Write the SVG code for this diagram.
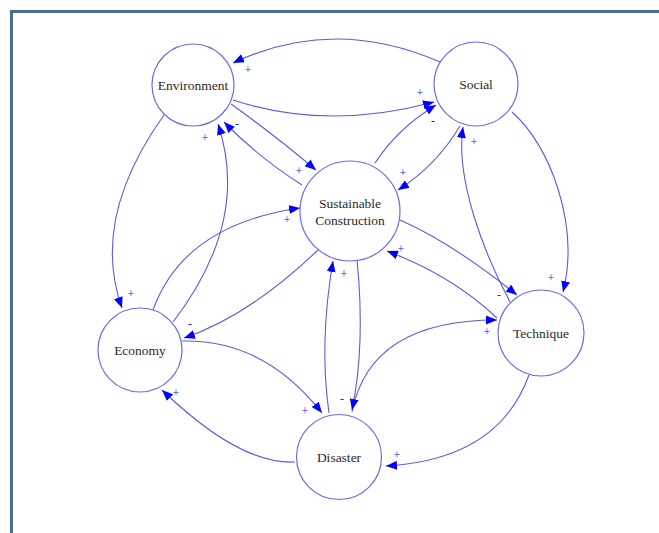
<svg xmlns="http://www.w3.org/2000/svg" width="659" height="533" viewBox="0 0 659 533">
<defs>
<marker id="ah" markerUnits="userSpaceOnUse" markerWidth="12" markerHeight="9" refX="11" refY="4.5" orient="auto">
<path d="M0,0 L11,4.5 L0,9 z" fill="#0000ff"/>
</marker>
</defs>
<style>
.node circle{fill:#ffffff;stroke:#6a6ae8;stroke-width:1.2}
.nt{font-size:13.5px;fill:#2a2a2a;text-anchor:middle}
.edge{fill:none;stroke:#5a5ae6;stroke-width:1.1;marker-end:url(#ah)}
.lbl{font-size:12px;fill:#2020f0;text-anchor:middle;dominant-baseline:central}
</style>
<rect width="659" height="533" fill="#ffffff"/>
<path d="M11.5 533 V11.5 H659" fill="none" stroke="#4a6b9c" stroke-width="3"/>
<g id="connectors">
<path class="edge" d="M440,62 Q333.5,15.5 233,63"/>
<path class="edge" d="M233,100 Q326.5,131 434,102"/>
<path class="edge" d="M231,104 Q272,133 316,170"/>
<path class="edge" d="M302,185 Q258,157 224,122"/>
<path class="edge" d="M173,322 Q250.5,221 218,124"/>
<path class="edge" d="M164,115 Q90,218.5 122,308"/>
<path class="edge" d="M375,163 Q398,128 436,105"/>
<path class="edge" d="M460,126 Q436,166 398,190"/>
<path class="edge" d="M512,112 C550,145 580,225 563,292"/>
<path class="edge" d="M510,302 C485,255 455,180 463,127"/>
<path class="edge" d="M400,220 Q451.5,242.5 517,295"/>
<path class="edge" d="M497,318 Q452,275.5 387,251"/>
<path class="edge" d="M529,375 Q498.5,459.5 386,466"/>
<path class="edge" d="M352,412 Q370,320 497,320"/>
<path class="edge" d="M357,259 Q365.5,345.5 352,410"/>
<path class="edge" d="M329,413 Q319,343 333,261"/>
<path class="edge" d="M153,310 Q183.5,225 300,208"/>
<path class="edge" d="M318,250 Q249,316 184,338"/>
<path class="edge" d="M182,341 Q264,339 322,413"/>
<path class="edge" d="M295,462 Q240,465 162,390"/>
</g>
<g id="labels" font-family="'Liberation Serif', 'Times New Roman', serif">
<text class="lbl" x="248" y="70">+</text>
<text class="lbl" x="420" y="93">+</text>
<text class="lbl" x="299" y="171">+</text>
<text class="lbl" x="237" y="124">-</text>
<text class="lbl" x="205" y="138">+</text>
<text class="lbl" x="131" y="294">+</text>
<text class="lbl" x="433" y="121">-</text>
<text class="lbl" x="403" y="173">+</text>
<text class="lbl" x="551" y="278">+</text>
<text class="lbl" x="474" y="142">+</text>
<text class="lbl" x="499" y="295">-</text>
<text class="lbl" x="401" y="249">+</text>
<text class="lbl" x="487" y="332">+</text>
<text class="lbl" x="397" y="455">+</text>
<text class="lbl" x="342" y="399">-</text>
<text class="lbl" x="344" y="274">+</text>
<text class="lbl" x="287" y="220">+</text>
<text class="lbl" x="190" y="324">-</text>
<text class="lbl" x="305" y="411">+</text>
<text class="lbl" x="176" y="393">+</text>
</g>
<g id="environment" class="node"><circle cx="193" cy="85" r="41"/><text class="nt" font-family="'Liberation Serif', 'Times New Roman', serif" x="193" y="89.5">Environment</text></g>
<g id="social" class="node"><circle cx="476" cy="84" r="42"/><text class="nt" font-family="'Liberation Serif', 'Times New Roman', serif" x="476" y="89">Social</text></g>
<g id="sustainable-construction" class="node"><circle cx="350" cy="211" r="50"/><text class="nt" font-family="'Liberation Serif', 'Times New Roman', serif" x="350" y="207.5">Sustainable</text><text class="nt" font-family="'Liberation Serif', 'Times New Roman', serif" x="350" y="224.5">Construction</text></g>
<g id="economy" class="node"><circle cx="140" cy="350" r="42"/><text class="nt" font-family="'Liberation Serif', 'Times New Roman', serif" x="140" y="354.5">Economy</text></g>
<g id="technique" class="node"><circle cx="541" cy="333" r="43"/><text class="nt" font-family="'Liberation Serif', 'Times New Roman', serif" x="541" y="337.5">Technique</text></g>
<g id="disaster" class="node"><circle cx="339" cy="457" r="42.5"/><text class="nt" font-family="'Liberation Serif', 'Times New Roman', serif" x="339" y="461.5">Disaster</text></g>
</svg>
